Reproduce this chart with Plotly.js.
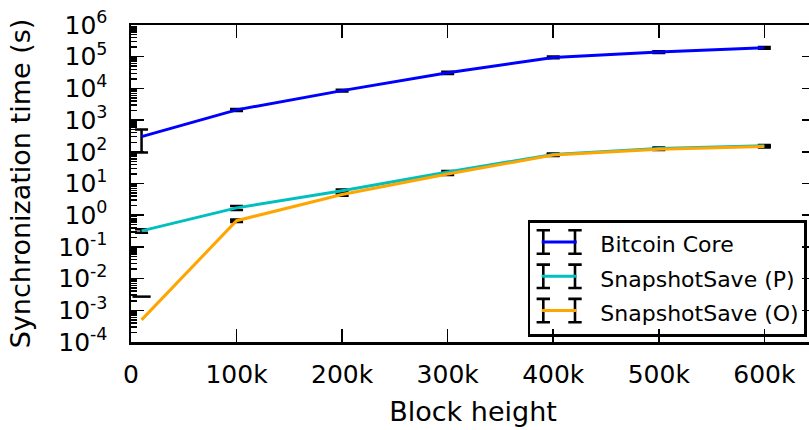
<!DOCTYPE html>
<html>
<head>
<meta charset="utf-8">
<script src="https://cdn.plot.ly/plotly-3.0.1.min.js"></script>
<style>
html,body{margin:0;padding:0;overflow:hidden;background:#fff;width:809px;height:430px;}
#chart{width:830px;height:430px;}
</style>
</head>
<body>
<div id="chart"></div>
<script>
// ---- data ----
var heights = [10000, 100000, 200000, 300000, 400000, 500000, 600000];
var coreTime = [300, 2100, 8500, 31000, 95000, 140000, 190000];
var coreErr  = [205, 150, 500, 2500, 6000, 8000, 12000];
var snapPTime = [0.32, 1.7, 5.9, 23, 83, 128, 155];
var snapPErr  = [0.04, 0.25, 0.6, 2, 5, 8, 10];
var snapOTime = [0.0005, 0.67, 4.5, 20, 79, 120, 147];
var snapOErr  = [0.0022, 0.06, 0.4, 1.5, 5, 7, 10];
var seriesNames = ['Bitcoin Core', 'SnapshotSave (P)', 'SnapshotSave (O)'];
var seriesColors = ['#0000ff', '#00bfbf', '#ffa500'];
var xTickVals = [0, 100000, 200000, 300000, 400000, 500000, 600000];
var xTickText = ['0', '100k', '200k', '300k', '400k', '500k', '600k'];
var yExponents = [-4, -3, -2, -1, 0, 1, 2, 3, 4, 5, 6];

var series = [
  {name: seriesNames[0], y: coreTime, err: coreErr, color: seriesColors[0]},
  {name: seriesNames[1], y: snapPTime, err: snapPErr, color: seriesColors[1]},
  {name: seriesNames[2], y: snapOTime, err: snapOErr, color: seriesColors[2]}
];

var FONT = 'DejaVu Sans, sans-serif';
var traces = [];
// error bars first (under the lines)
series.forEach(function(s){
  var errArr = s.err.map(function(e, i){ return (s.y[i] - e > 0) ? e : NaN; });
  traces.push({
    x: heights, y: s.y, type: 'scatter', mode: 'markers',
    marker: {size: 1, opacity: 0},
    error_y: {type: 'data', array: errArr, visible: true, color: '#000', thickness: 2.5, width: 6.5},
    showlegend: false, hoverinfo: 'skip'
  });
  // upper caps only where the lower bound is not positive (log scale clips the bar)
  var cx = [], cy = [];
  s.err.forEach(function(e, i){ if (s.y[i] - e <= 0) { cx.push(heights[i]); cy.push(s.y[i] + e); } });
  if (cx.length) {
    traces.push({
      x: cx, y: cy, type: 'scatter', mode: 'markers',
      marker: {symbol: 'line-ew', size: 13, line: {color: '#000', width: 2.5}},
      showlegend: false, hoverinfo: 'skip'
    });
  }
});
// data lines on top of the error bars
series.forEach(function(s){
  traces.push({
    x: heights, y: s.y, type: 'scatter', mode: 'lines', name: s.name,
    line: {color: s.color, width: 3}, showlegend: false
  });
});
// legend entries (their symbols are drawn as errorbar glyphs below)
series.forEach(function(s, k){
  traces.push({
    x: [null], y: [null], type: 'scatter', mode: 'lines', name: s.name,
    line: {color: 'rgba(0,0,0,0)', width: 0}, legendgroup: 'g' + k, hoverinfo: 'skip'
  });
});

var yTickVals = yExponents.map(function(p){ return Math.pow(10, p); });
var yTickText = yExponents.map(function(p){ return '10<sup>' + (p < 0 ? '-' : '') + Math.abs(p) + '</sup>'; });
var yMinor = [];
for (var p = -4; p < 6; p++) { for (var m = 2; m <= 9; m++) yMinor.push(m * Math.pow(10, p)); }

// legend glyph geometry (pixel positions converted to paper coordinates)
var L = 131, R = 815, T = 25, B = 342;
function px(v){ return (v - L) / (R - L); }
function py(v){ return (B - v) / (B - T); }
var legendRowY = [242, 276.3, 310.6];
var shapes = [];
legendRowY.forEach(function(cy, k){
  [543.3, 575].forEach(function(cx){
    var path = 'M' + px(cx - 6.7) + ',' + py(cy - 11.7) + 'H' + px(cx + 6.7) +
               'M' + px(cx) + ',' + py(cy - 11.7) + 'V' + py(cy + 11.7) +
               'M' + px(cx - 6.7) + ',' + py(cy + 11.7) + 'H' + px(cx + 6.7);
    shapes.push({type: 'path', xref: 'paper', yref: 'paper', path: path, line: {color: '#000', width: 2.6}, layer: 'above'});
  });
  shapes.push({type: 'line', xref: 'paper', yref: 'paper', x0: px(541.7), x1: px(576.7), y0: py(cy), y1: py(cy),
               line: {color: seriesColors[k], width: 3}, layer: 'above'});
});

var layout = {
  width: 830, height: 430,
  margin: {l: 131, r: 15, t: 25, b: 88},
  paper_bgcolor: '#fff', plot_bgcolor: '#fff',
  font: {family: FONT, color: '#000', size: 25},
  showlegend: true,
  shapes: shapes,
  xaxis: {
    range: [0, 648000], tickmode: 'array', tickvals: xTickVals, ticktext: xTickText,
    ticks: 'inside', ticklen: 13, tickwidth: 1.5, tickcolor: '#000',
    showline: true, linewidth: 2.5, linecolor: '#000', mirror: 'ticks',
    showgrid: false, zeroline: false,
    tickfont: {family: FONT, size: 25},
    ticklabelstandoff: 8,
    title: {text: 'Block height', font: {family: FONT, size: 27}, standoff: 15}
  },
  yaxis: {
    type: 'log', range: [-4, 6], tickmode: 'array', tickvals: yTickVals, ticktext: yTickText,
    ticks: 'inside', ticklen: 13, tickwidth: 1.5, tickcolor: '#000',
    minor: {tickmode: 'array', tickvals: yMinor, ticks: 'inside', ticklen: 6, tickwidth: 1.5, tickcolor: '#000', showgrid: false},
    showline: true, linewidth: 2.5, linecolor: '#000', mirror: 'ticks',
    showgrid: false, zeroline: false,
    tickfont: {family: FONT, size: 25},
    ticklabelstandoff: 16,
    title: {text: 'Synchronization time (s)', font: {family: FONT, size: 27}, standoff: 20}
  },
  legend: {
    x: 0.58, y: 0.385, xanchor: 'left', yanchor: 'top',
    bgcolor: 'rgba(0,0,0,0)', bordercolor: '#000', borderwidth: 2.6,
    font: {family: FONT, size: 22},
    tracegroupgap: 3, traceorder: 'grouped', itemwidth: 60
  }
};

Plotly.newPlot('chart', traces, layout, {staticPlot: true, displayModeBar: false});
</script>
</body>
</html>
